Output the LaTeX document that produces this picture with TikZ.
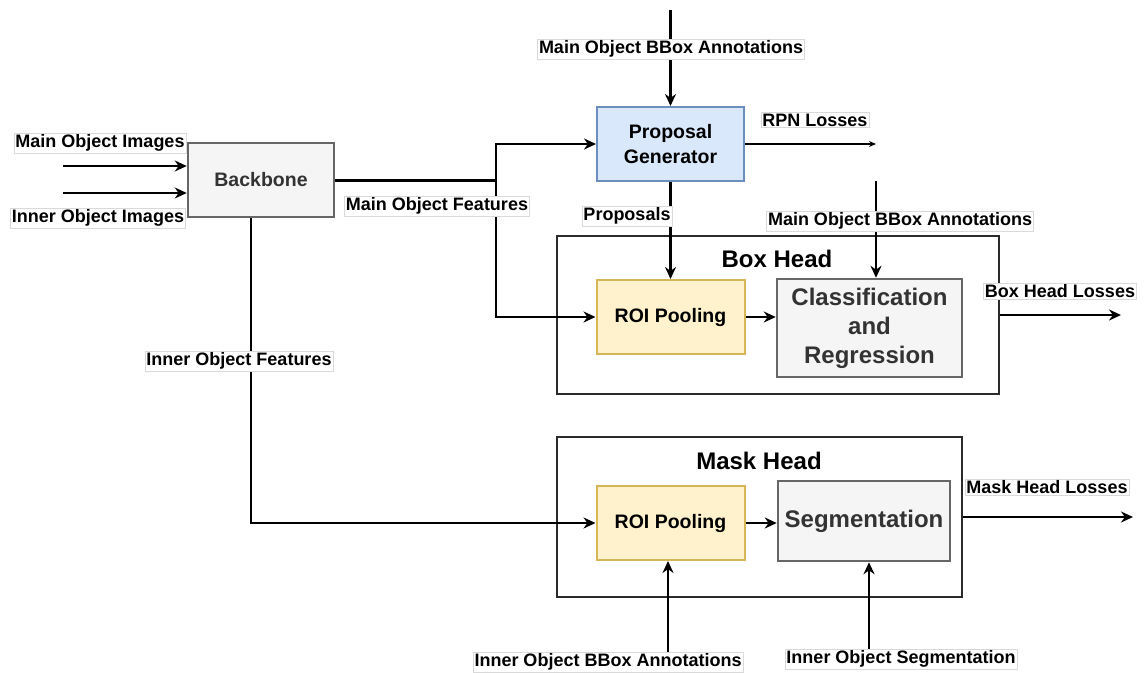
\documentclass[tikz,border=0pt]{standalone}
\usepackage{fontspec}
\setmainfont{Liberation Sans}
\usetikzlibrary{positioning,arrows.meta}
\definecolor{blueFill}{HTML}{DAE8FC}
\definecolor{blueLine}{HTML}{6C8EBF}
\definecolor{yellowFill}{HTML}{FFF2CC}
\definecolor{yellowLine}{HTML}{D6B656}
\definecolor{grayFill}{HTML}{F5F5F5}
\definecolor{grayLine}{HTML}{666666}
\definecolor{darkText}{HTML}{333333}
\definecolor{frameLine}{HTML}{2B2B2B}

\begin{document}
\begin{tikzpicture}[x=1pt, y=-1pt,
      blk/.style={draw, line width=2pt, align=center, minimum height=74pt, inner sep=2pt,
                  font=\fontsize{19.5}{25}\selectfont\bfseries},
      graybox/.style={blk, fill=grayFill, draw=grayLine, text=darkText, line width=2.5pt},
      grp/.style={draw=frameLine, line width=2.5pt},
      title/.style={font=\fontsize{24}{26}\selectfont\bfseries},
      lbl/.style={fill=white, draw=gray!30, line width=0.6pt, inner sep=1.5pt,
                  font=\fontsize{18}{20}\selectfont\bfseries},
      arr/.style={-{Stealth[length=12pt, width=11pt]}, line width=2.2pt},
      rpnarr/.style={-{Stealth[length=7pt, width=6pt]}, line width=1.3pt}]
    \useasboundingbox (0,0) rectangle (1145,672);
    % head containers
    \node[grp, minimum width=442pt, minimum height=158pt] (bh) at (778,315) {};
    \node[title] (bhT) at (777,259) {Box Head};
    \node[grp, minimum width=405pt, minimum height=160pt] (mh) at (759.5,517) {};
    \node[title] (mhT) at (759,461) {Mask Head};
    % blocks
    \node[graybox, minimum width=146pt] (bb) at (261,180) {Backbone};
    \node[blk, fill=blueFill, draw=blueLine, minimum width=147pt] (pg) at (670.5,144) {Proposal\\Generator};
    \node[blk, fill=yellowFill, draw=yellowLine, minimum width=148pt, below=97pt of pg] (roi1) {ROI Pooling};
    \node[graybox, minimum width=185pt, minimum height=98pt,
          font=\fontsize{24}{29}\selectfont\bfseries] (cls) at (869.5,328) {Classification\\and\\Regression};
    \node[blk, fill=yellowFill, draw=yellowLine, minimum width=148pt, below=130pt of roi1] (roi2) {ROI Pooling};
    \node[graybox, minimum width=172pt, minimum height=80pt,
          font=\fontsize{24}{29}\selectfont\bfseries] (seg) at (864,521) {Segmentation};
    % connectors
    \coordinate (im1) at (63,166);
    \coordinate (im2) at (63,193);
    \draw[arr] (im1) -- (im1 -| bb.west);
    \draw[arr] (im2) -- (im2 -| bb.west);
    \coordinate (split) at (496,180);
    \draw[line width=3pt] (bb.east) -- (split);
    \draw[arr] (split) |- (pg);
    \draw[arr] (split) |- (roi1);
    \draw[arr] ([xshift=-10pt]bb.south) |- (roi2);
    \coordinate (mbTop) at (670.5,10);
    \draw[arr] (mbTop) -- (pg);
    \coordinate (rpnEnd) at (876,144);
    \draw[rpnarr] (pg) -- (rpnEnd);
    \draw[arr] (pg) -- (roi1);
    \coordinate (mbTop2) at (876,181);
    \draw[arr] (mbTop2) -- (mbTop2 |- cls.north);
    \draw[arr] (roi1.east) -- (roi1.east -| cls.west);
    \coordinate (bhEnd) at (1121,315);
    \draw[arr] (bh.east) -- (bhEnd);
    \draw[arr] (roi2.east) -- (roi2.east -| seg.west);
    \coordinate (mhEnd) at (1133,517);
    \draw[arr] (mh.east) -- (mhEnd);
    \coordinate (ibbBot) at (668,656);
    \draw[arr] (ibbBot) -- (ibbBot |- roi2.south);
    \coordinate (isegBot) at (869,650);
    \draw[arr] (isegBot) -- (isegBot |- seg.south);
    % labels
    \node[lbl] (lMI) at (100,143) {Main Object Images};
    \node[lbl] (lII) at (98,218) {Inner Object Images};
    \node[lbl] (lMB) at (671,49) {Main Object BBox Annotations};
    \node[lbl] (lRPN) at (815,120) {RPN Losses};
    \node[lbl] (lMF) at (437,206) {Main Object Features};
    \node[lbl] (lProp) at (627,216) {Proposals};
    \node[lbl] (lMB2) at (900,221) {Main Object BBox Annotations};
    \node[lbl] (lBHL) at (1060,291) {Box Head Losses};
    \node[lbl] (lIF) at (239,361) {Inner Object Features};
    \node[lbl] (lMHL) at (1047,487) {Mask Head Losses};
    \node[lbl] (lIBB) at (608,662) {Inner Object BBox Annotations};
    \node[lbl] (lIS) at (901,659) {Inner Object Segmentation};
  \end{tikzpicture}
\end{document}
